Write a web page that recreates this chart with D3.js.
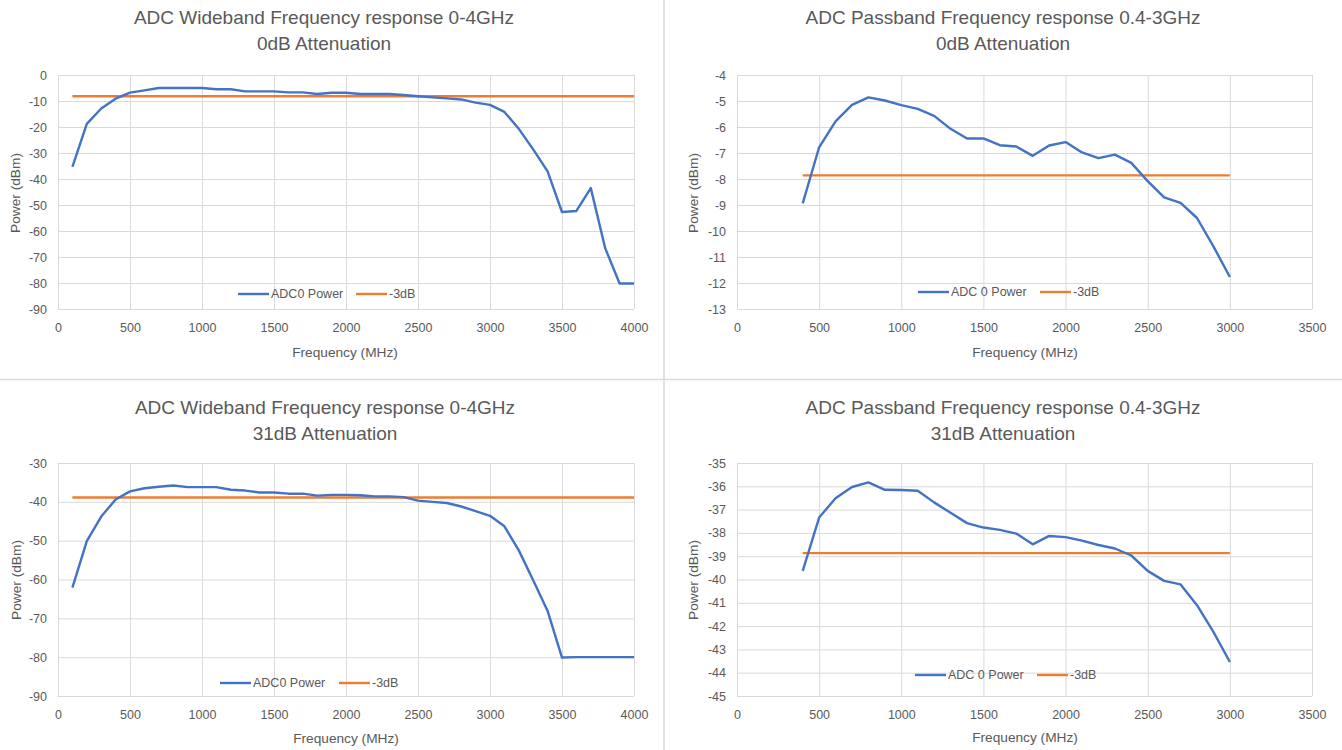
<!DOCTYPE html>
<html lang="en">
<head>
<meta charset="UTF-8">
<title>ADC Frequency response</title>
<script src="https://d3js.org/d3.v7.min.js"></script>
<style>
  body { margin: 0; background: #fff; }
  svg { display: block; font-family: "Liberation Sans", Arial, sans-serif; }
  .tick text { fill: #595959; font-size: 12.5px; }
  .grid line { stroke: #d9d9d9; stroke-width: 1; }
  .title { fill: #595959; font-size: 19px; text-anchor: middle; }
  .axis-title { fill: #595959; font-size: 13.7px; text-anchor: middle; }
  .legend text { fill: #595959; font-size: 12.5px; }
</style>
</head>
<body>
<svg id="chart" width="1342" height="750"></svg>
<script>
// frequencies (MHz)
const freqWide = [100, 200, 300, 400, 500, 600, 700, 800, 900, 1000,
  1100, 1200, 1300, 1400, 1500, 1600, 1700, 1800, 1900, 2000,
  2100, 2200, 2300, 2400, 2500, 2600, 2700, 2800, 2900, 3000,
  3100, 3200, 3300, 3400, 3500, 3600, 3700, 3800, 3900, 4000];
const freqPass = [400, 500, 600, 700, 800, 900, 1000, 1100, 1200, 1300,
  1400, 1500, 1600, 1700, 1800, 1900, 2000, 2100, 2200, 2300,
  2400, 2500, 2600, 2700, 2800, 2900, 3000];

// measured power (dBm)
const wide0dB = [-35.3, -18.8, -12.9, -9.1, -6.8, -5.9, -5.0, -5.0, -5.0, -5.0,
  -5.5, -5.5, -6.3, -6.3, -6.3, -6.7, -6.7, -7.3, -6.8, -6.8,
  -7.3, -7.3, -7.3, -7.7, -8.2, -8.6, -9.0, -9.4, -10.6, -11.5,
  -14.2, -20.7, -28.6, -37.1, -52.7, -52.3, -43.5, -66.6, -80.2, -80.2];
const pass0dB = [-8.94, -6.78, -5.78, -5.15, -4.86, -4.98, -5.16, -5.30, -5.57, -6.07,
  -6.44, -6.44, -6.70, -6.75, -7.11, -6.71, -6.58, -6.98, -7.20, -7.06,
  -7.38, -8.08, -8.71, -8.92, -9.50, -10.59, -11.77];
const wide31dB = [-62.1, -50.1, -43.8, -39.4, -37.3, -36.5, -36.1, -35.8, -36.2, -36.2,
  -36.2, -36.9, -37.1, -37.6, -37.6, -37.9, -37.9, -38.4, -38.2, -38.2,
  -38.3, -38.6, -38.6, -38.8, -39.7, -40.0, -40.3, -41.2, -42.4, -43.6,
  -46.3, -52.5, -60.2, -68.1, -80.1, -80.0, -80.0, -80.0, -80.0, -80.0];
const pass31dB = [-39.63, -37.34, -36.51, -36.03, -35.83, -36.15, -36.16, -36.19, -36.69, -37.14,
  -37.58, -37.77, -37.87, -38.03, -38.49, -38.13, -38.18, -38.33, -38.52, -38.67,
  -38.97, -39.63, -40.06, -40.21, -41.10, -42.25, -43.54];

// -3dB reference levels
const minus3dB = [-8.2, -7.86, -38.9, -38.87];

const titles = [
  ["ADC Wideband Frequency response 0-4GHz", "0dB Attenuation"],
  ["ADC Passband Frequency response 0.4-3GHz", "0dB Attenuation"],
  ["ADC Wideband Frequency response 0-4GHz", "31dB Attenuation"],
  ["ADC Passband Frequency response 0.4-3GHz", "31dB Attenuation"]
];
const seriesNames = ["ADC0 Power", "ADC 0 Power", "ADC0 Power", "ADC 0 Power"];
const refName = "-3dB";

const xTicksWide = [0, 500, 1000, 1500, 2000, 2500, 3000, 3500, 4000];
const xTicksPass = [0, 500, 1000, 1500, 2000, 2500, 3000, 3500];
const yTicks0 = [0, -10, -20, -30, -40, -50, -60, -70, -80, -90];
const yTicks1 = [-4, -5, -6, -7, -8, -9, -10, -11, -12, -13];
const yTicks2 = [-30, -40, -50, -60, -70, -80, -90];
const yTicks3 = [-35, -36, -37, -38, -39, -40, -41, -42, -43, -44, -45];

const blue = "#4472c4", orange = "#ed7d31";

const panels = [
  { freq: freqWide, power: wide0dB, xTicks: xTicksWide, yTicks: yTicks0,
    box: { l: 58, r: 634, t: 75, b: 309 }, titleX: 324, titleY: 17, xTitle: [345, 352], yTitle: [15, 193],
    legend: { x: 238, x2: 356, y: 294 } },
  { freq: freqPass, power: pass0dB, xTicks: xTicksPass, yTicks: yTicks1,
    box: { l: 737, r: 1312, t: 75, b: 309 }, titleX: 1003, titleY: 17, xTitle: [1025, 352], yTitle: [693, 193],
    legend: { x: 918, x2: 1040, y: 292 } },
  { freq: freqWide, power: wide31dB, xTicks: xTicksWide, yTicks: yTicks2,
    box: { l: 58, r: 634, t: 463, b: 696 }, titleX: 325, titleY: 407, xTitle: [346, 738], yTitle: [16, 580],
    legend: { x: 220, x2: 339, y: 683 } },
  { freq: freqPass, power: pass31dB, xTicks: xTicksPass, yTicks: yTicks3,
    box: { l: 737, r: 1312, t: 463, b: 696 }, titleX: 1003, titleY: 407, xTitle: [1025, 737], yTitle: [693, 580],
    legend: { x: 915, x2: 1037, y: 675 } }
];

const svg = d3.select("#chart");

// panel separators
svg.append("line").attr("x1", 0).attr("x2", 1342).attr("y1", 379.5).attr("y2", 379.5)
  .attr("stroke", "#d9d9d9").attr("stroke-width", 1.5);
svg.append("line").attr("x1", 664).attr("x2", 664).attr("y1", 0).attr("y2", 750)
  .attr("stroke", "#d9d9d9").attr("stroke-width", 1.5);

panels.forEach((p, i) => {
  const b = p.box;
  const x = d3.scaleLinear().domain([p.xTicks[0], p.xTicks[p.xTicks.length - 1]]).range([b.l, b.r]);
  const y = d3.scaleLinear().domain([p.yTicks[p.yTicks.length - 1], p.yTicks[0]]).range([b.b, b.t]);
  const g = svg.append("g");

  // gridlines
  g.append("g").attr("class", "grid")
    .attr("transform", `translate(0,${b.b})`)
    .call(d3.axisBottom(x).tickValues(p.xTicks).tickSize(-(b.b - b.t)).tickFormat(""))
    .call(a => a.select(".domain").remove());
  g.append("g").attr("class", "grid")
    .attr("transform", `translate(${b.l},0)`)
    .call(d3.axisLeft(y).tickValues(p.yTicks).tickSize(-(b.r - b.l)).tickFormat(""))
    .call(a => a.select(".domain").remove());

  // tick labels
  g.append("g")
    .attr("transform", `translate(0,${b.b})`)
    .call(d3.axisBottom(x).tickValues(p.xTicks).tickSize(0).tickPadding(14).tickFormat(d3.format("d")))
    .call(a => a.select(".domain").remove());
  g.append("g")
    .attr("transform", `translate(${b.l},0)`)
    .call(d3.axisLeft(y).tickValues(p.yTicks).tickSize(0).tickPadding(11).tickFormat(d3.format("d")))
    .call(a => a.select(".domain").remove())
    .selectAll("text").text(d => d === 0 ? "0" : "-" + Math.abs(d));

  // -3dB line
  const fMin = p.freq[0], fMax = p.freq[p.freq.length - 1];
  g.append("path")
    .datum([[fMin, minus3dB[i]], [fMax, minus3dB[i]]])
    .attr("fill", "none").attr("stroke", orange).attr("stroke-width", 2.4)
    .attr("d", d3.line().x(d => x(d[0])).y(d => y(d[1])));

  // power line
  g.append("path")
    .datum(p.freq.map((f, k) => [f, p.power[k]]))
    .attr("fill", "none").attr("stroke", blue).attr("stroke-width", 2.4)
    .attr("stroke-linejoin", "round")
    .attr("d", d3.line().x(d => x(d[0])).y(d => y(d[1])));

  // titles
  g.append("text").attr("class", "title").attr("x", p.titleX).attr("y", p.titleY).attr("dy", "0.35em").text(titles[i][0]);
  g.append("text").attr("class", "title").attr("x", p.titleX).attr("y", p.titleY + 26.5).attr("dy", "0.35em").text(titles[i][1]);

  g.append("text").attr("class", "axis-title")
    .attr("x", p.xTitle[0]).attr("y", p.xTitle[1]).attr("dy", "0.35em").text("Frequency (MHz)");
  g.append("text").attr("class", "axis-title")
    .attr("transform", `translate(${p.yTitle[0]},${p.yTitle[1]}) rotate(-90)`)
    .attr("dy", "0.35em").text("Power (dBm)");

  // legend
  const lg = g.append("g").attr("class", "legend");
  [[p.legend.x, blue, seriesNames[i]], [p.legend.x2, orange, refName]].forEach(([lx, c, name]) => {
    lg.append("line").attr("x1", lx).attr("x2", lx + 31).attr("y1", p.legend.y).attr("y2", p.legend.y)
      .attr("stroke", c).attr("stroke-width", 2.4);
    lg.append("text").attr("x", lx + 33).attr("y", p.legend.y).attr("dy", "0.35em").text(name);
  });
});
</script>
</body>
</html>
